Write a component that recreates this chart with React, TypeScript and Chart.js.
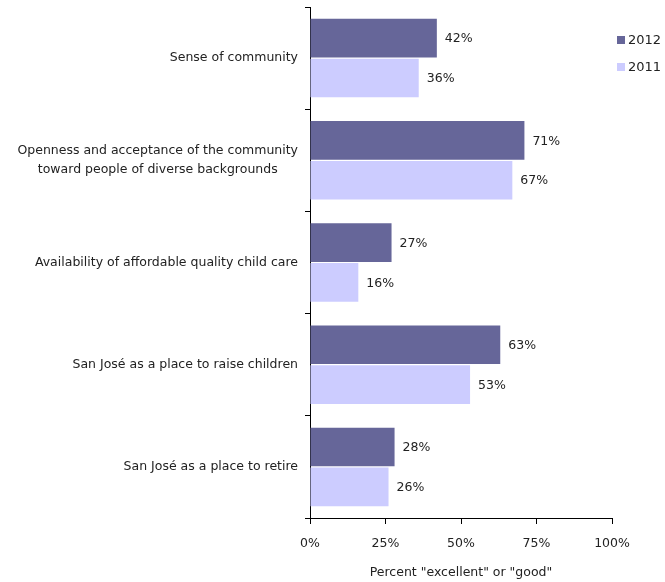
import React, { useEffect, useRef } from "react";
import { Chart, registerables } from "chart.js";

Chart.register(...registerables);

const categories: (string | string[])[] = [
  "Sense of community",
  ["Openness and acceptance of the community", "toward people of diverse backgrounds"],
  "Availability of affordable quality child care",
  "San José as a place to raise children",
  "San José as a place to retire",
];
const values2012 = [42, 71, 27, 63, 28];
const values2011 = [36, 67, 16, 53, 26];
const seriesNames = ["2012", "2011"];
const xTicks = [0, 25, 50, 75, 100];
const axisTitle = 'Percent "excellent" or "good"';

const FONT = "'DejaVu Sans', sans-serif";
const TEXT = "#222222";

const valueLabels = {
  id: "valueLabels",
  afterDatasetsDraw(chart: any) {
    const ctx = chart.ctx;
    ctx.save();
    ctx.font = `12.5px ${FONT}`;
    ctx.fillStyle = TEXT;
    ctx.textAlign = "left";
    ctx.textBaseline = "middle";
    chart.data.datasets.forEach((ds: any, i: number) => {
      const meta = chart.getDatasetMeta(i);
      meta.data.forEach((bar: any, j: number) => {
        ctx.fillText(`${ds.data[j]}%`, bar.x + 8, bar.y + 1);
      });
    });
    ctx.restore();
  },
};

// Category labels: block right-aligned to the axis, lines centred inside the block
const categoryLabels = {
  id: "categoryLabels",
  afterDraw(chart: any) {
    const ctx = chart.ctx;
    const scale = chart.scales.y;
    ctx.save();
    ctx.font = `12.5px ${FONT}`;
    ctx.fillStyle = TEXT;
    ctx.textBaseline = "middle";
    ctx.textAlign = "center";
    const right = scale.right - 12;
    const lh = 19;
    chart.data.labels.forEach((lab: any, i: number) => {
      const lines: string[] = Array.isArray(lab) ? lab : [lab];
      const w = Math.max(...lines.map((l) => ctx.measureText(l).width));
      const cx = right - w / 2;
      const cy = scale.getPixelForValue(i);
      lines.forEach((l, k) => {
        ctx.fillText(l, cx, cy + (k - (lines.length - 1) / 2) * lh);
      });
    });
    ctx.restore();
  },
};

const customLegend = {
  id: "customLegend",
  afterDraw(chart: any) {
    const ctx = chart.ctx;
    ctx.save();
    ctx.font = `13px ${FONT}`;
    ctx.textBaseline = "middle";
    ctx.textAlign = "left";
    chart.data.datasets.forEach((ds: any, i: number) => {
      const y = 40 + i * 27;
      ctx.fillStyle = ds.backgroundColor;
      ctx.fillRect(617, y - 4, 8, 8);
      ctx.fillStyle = TEXT;
      ctx.fillText(ds.label, 628, y + 1);
    });
    ctx.restore();
  },
};

export default function App() {
  const ref = useRef<HTMLCanvasElement>(null);
  useEffect(() => {
    document.body.style.margin = "0";
    const chart = new Chart(ref.current!, {
      type: "bar",
      data: {
        labels: categories,
        datasets: [
          { label: seriesNames[0], data: values2012, backgroundColor: "#666699", barPercentage: 0.97, categoryPercentage: 0.78 },
          { label: seriesNames[1], data: values2011, backgroundColor: "#CCCCFF", barPercentage: 0.97, categoryPercentage: 0.78 },
        ],
      },
      options: {
        indexAxis: "y",
        animation: false,
        responsive: false,
        layout: { padding: { top: 7, right: 53, left: 0, bottom: 0 } },
        plugins: { legend: { display: false }, tooltip: { enabled: false } },
        scales: {
          x: {
            min: 0,
            max: 100,
            afterBuildTicks: (scale: any) => {
              scale.ticks = xTicks.map((v) => ({ value: v }));
            },
            afterFit: (scale: any) => {
              scale.height = 64;
              scale.paddingLeft = 0;
              scale.paddingRight = 0;
            },
            border: { display: true, color: "#000", width: 1 },
            grid: { drawOnChartArea: false, drawTicks: true, tickLength: 6, color: "#000" },
            ticks: {
              color: TEXT,
              font: { family: FONT, size: 12.5 },
              padding: 12,
              maxRotation: 0,
              callback: (v: any) => `${v}%`,
            },
            title: {
              display: true,
              text: axisTitle,
              color: TEXT,
              font: { family: FONT, size: 12.5 },
              padding: { top: 8, bottom: 2 },
            },
          },
          y: {
            afterFit: (scale: any) => {
              scale.width = 310;
              scale.paddingTop = 0;
              scale.paddingBottom = 0;
            },
            border: { display: true, color: "#000", width: 1 },
            grid: { drawOnChartArea: false, drawTicks: true, tickLength: 5, color: "#000", offset: true },
            ticks: {
              display: false,
              autoSkip: false,
            },
          },
        },
      },
      plugins: [valueLabels, categoryLabels, customLegend],
    });
    return () => chart.destroy();
  }, []);
  return (
    <div style={{ width: 665, height: 582 }}>
      <canvas ref={ref} width={665} height={582} style={{ display: "block" }} />
    </div>
  );
}
